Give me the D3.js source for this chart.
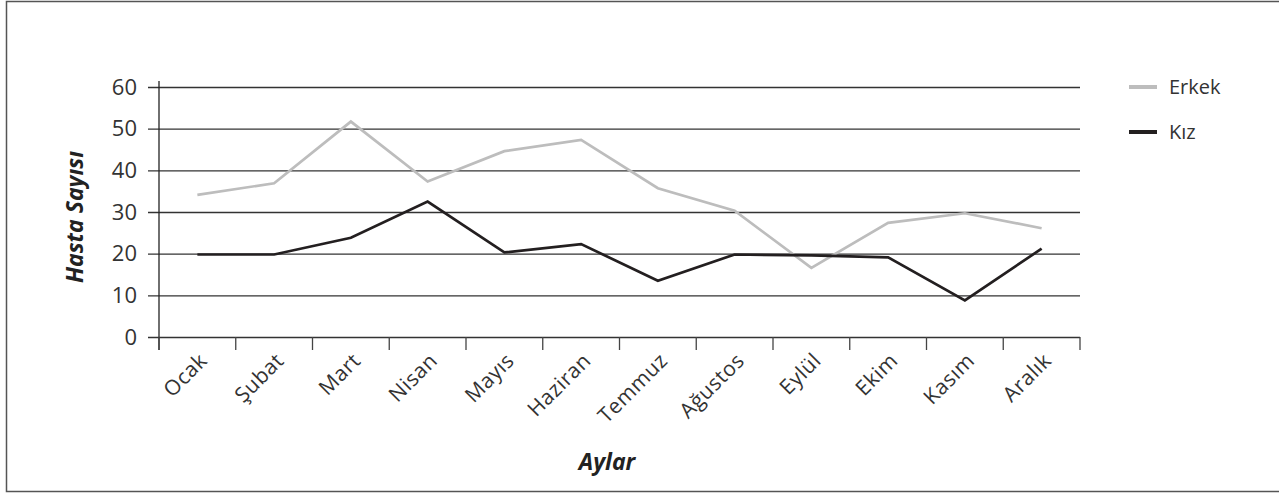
<!DOCTYPE html>
<html>
<head>
<meta charset="utf-8">
<script src="https://cdn.jsdelivr.net/npm/d3@7"></script>
<style>
  body { margin: 0; background: #fff; }
  svg { display: block; font-family: "Open Sans", Lato, sans-serif; }
</style>
</head>
<body>
<script>
// data
var aylar = ['Ocak','Şubat','Mart','Nisan','Mayıs','Haziran','Temmuz','Ağustos','Eylül','Ekim','Kasım','Aralık'];
var erkek = [34.1, 36.9, 51.7, 37.3, 44.6, 47.3, 35.7, 30.3, 16.6, 27.4, 29.7, 26.1];
var kiz   = [19.8, 19.8, 23.8, 32.5, 20.3, 22.3, 13.5, 19.8, 19.6, 19.1, 8.8, 21.2];
var yTicks = [0, 10, 20, 30, 40, 50, 60];
var seriesNames = ['Erkek', 'Kız'];
var seriesColors = ['#bdbdbd', '#231f20'];

var w = 1279, h = 493,
    plotL = 159, plotR = 1080, plotT = 87, plotB = 337;

var svg = d3.select('body')
  .append('svg')
  .attr('width', w)
  .attr('height', h);

// frame
svg.append('rect')
  .attr('x', 6.5).attr('y', 1.5)
  .attr('width', w).attr('height', 490)
  .attr('fill', 'none')
  .attr('stroke', '#555')
  .attr('stroke-width', 1.5);

var x = d3.scaleBand().domain(aylar).range([plotL, plotR]);
var y = d3.scaleLinear().domain([0, 60]).range([plotB, plotT]);

// grid lines + y labels
var yAxis = svg.append('g')
  .attr('transform', 'translate(' + plotR + ',0)')
  .call(d3.axisLeft(y).tickValues(yTicks).tickSize(plotR - 148).tickPadding(11));
yAxis.attr('font-family', null).attr('font-size', null);
yAxis.select('.domain').remove();
yAxis.selectAll('.tick line').attr('stroke', '#333').attr('stroke-width', 1.3);
yAxis.selectAll('.tick text')
  .attr('fill', '#333')
  .style('font-size', '22px');

// vertical axis
svg.append('line')
  .attr('x1', plotL).attr('x2', plotL)
  .attr('y1', 81).attr('y2', plotB + 13)
  .attr('stroke', '#222').attr('stroke-width', 1.3);

// x ticks at band edges
var edges = aylar.map(function(d) { return x(d); }).concat([plotR]);
svg.selectAll('line.xtick')
  .data(edges)
  .enter()
  .append('line')
  .classed('xtick', true)
  .attr('x1', function(d) { return d; })
  .attr('x2', function(d) { return d; })
  .attr('y1', plotB)
  .attr('y2', plotB + 13)
  .attr('stroke', '#444').attr('stroke-width', 1.3);

// x labels
svg.selectAll('text.xlab')
  .data(aylar)
  .enter()
  .append('text')
  .classed('xlab', true)
  .attr('transform', function(d) {
    var cx = x(d) + x.bandwidth() / 2 + 11;
    return 'translate(' + cx + ',' + (plotB + 25) + ') rotate(-45)';
  })
  .attr('text-anchor', 'end')
  .attr('fill', '#333')
  .style('font-size', '21px')
  .style('letter-spacing', '0.5px')
  .text(function(d) { return d; });

// lines
var line = d3.line()
  .x(function(d, i) { return x(aylar[i]) + x.bandwidth() / 2; })
  .y(function(d) { return y(d); });

[erkek, kiz].forEach(function(s, i) {
  svg.append('path')
    .datum(s)
    .attr('d', line)
    .attr('fill', 'none')
    .attr('stroke', seriesColors[i])
    .attr('stroke-width', 2.7)
    .attr('stroke-linejoin', 'miter');
});

// axis titles
svg.append('text')
  .attr('x', 607).attr('y', 470)
  .attr('text-anchor', 'middle')
  .style('font-size', '23px')
  .style('font-weight', 'bold')
  .style('font-style', 'italic')
  .attr('fill', '#222')
  .text('Aylar');

svg.append('text')
  .attr('transform', 'translate(83,217) rotate(-90)')
  .attr('text-anchor', 'middle')
  .style('font-size', '23px')
  .style('font-weight', 'bold')
  .style('font-style', 'italic')
  .attr('fill', '#222')
  .text('Hasta Sayısı');

// legend
var leg = svg.selectAll('g.leg')
  .data(seriesNames)
  .enter()
  .append('g')
  .classed('leg', true)
  .attr('transform', function(d, i) { return 'translate(1129,' + (87 + i * 45) + ')'; });
leg.append('line')
  .attr('x1', 0).attr('x2', 28)
  .attr('stroke', function(d, i) { return seriesColors[i]; })
  .attr('stroke-width', 4);
leg.append('text')
  .attr('x', 40).attr('y', 7)
  .attr('fill', '#333')
  .style('font-size', '20px')
  .text(function(d) { return d; });
</script>
</body>
</html>
